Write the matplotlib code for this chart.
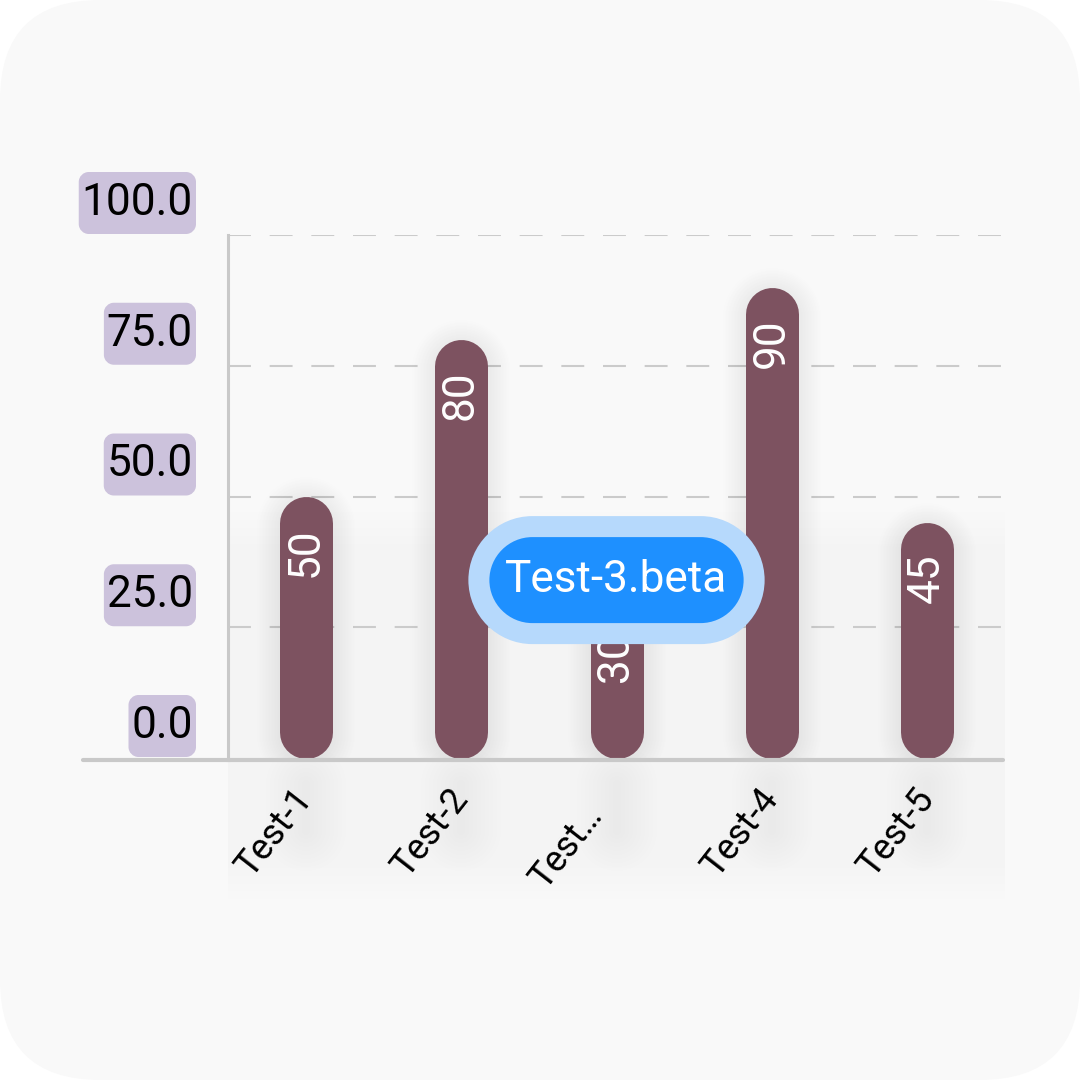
import matplotlib
matplotlib.use("Agg")
import matplotlib.pyplot as plt
import matplotlib.transforms as mtransforms
from matplotlib.patches import FancyBboxPatch, Rectangle
from matplotlib.lines import Line2D
from matplotlib.path import Path

plt.rcParams["font.family"] = ["Roboto", "DejaVu Sans"]

# data
categories = ["Test-1", "Test-2", "Test-3.beta", "Test-4", "Test-5"]
values = [50, 80, 30, 90, 45]
y_ticks = [0, 25, 50, 75, 100]
highlight = "Test-3.beta"

BAR_COLOR = "#7d5260"
GRID_COLOR = "#cbcbcb"
AXIS_COLOR = "#c9c9c9"
CARD_COLOR = "#f9f9f9"
TICK_BOX = "#ccc2dc"
FS = 31.8  # main text size

W = H = 1080
fig = plt.figure(figsize=(W / 100, H / 100), dpi=100, facecolor="white")

# rounded card behind everything
card = FancyBboxPatch((0, 0), 1, 1, boxstyle="round,pad=0,rounding_size=0.093",
                      transform=fig.transFigure, fc=CARD_COLOR, ec="none", zorder=-10)
fig.patches.append(card)

ax = fig.add_axes([228 / W, 1 - 758 / H, 777 / W, 523 / H])
ax.set_facecolor("none")
ax.set_xlim(-0.5, len(categories) - 0.5)
ax.set_ylim(0, 100)
for s in ["top", "right", "bottom"]:
    ax.spines[s].set_visible(False)
ax.spines["left"].set_color(AXIS_COLOR)
ax.spines["left"].set_linewidth(2.2)
ax.spines["left"].set_bounds(-0.4, 100)
ax.tick_params(length=0)

# dashed grid
for t in y_ticks[1:]:
    ln = ax.axhline(t, color=GRID_COLOR, lw=1.5, zorder=1)
    ln.set_dashes((11.0, 9.0))

# x axis line runs further left than the plot area
fig.add_artist(Line2D([83 / W, 1003 / W], [1 - 760 / H, 1 - 760 / H],
                      color=AXIS_COLOR, lw=3, solid_capstyle="round", zorder=3))

# very faint shaded band behind lower part of the chart
for k in range(5):
    ax.add_patch(Rectangle((-0.5, -27 + k * 1.5), len(categories), 74 - k * 3,
                           fc="black", ec="none", alpha=0.004, zorder=0.5,
                           clip_on=False))

# pixel size of one data unit, for round caps
p0 = ax.transData.transform((0, 0))
p1 = ax.transData.transform((0, 1))
px_per_unit = p1[1] - p0[1]
bar_px = 53
bar_pt = bar_px * 72 / fig.dpi
r = bar_px / 2 / px_per_unit

for i, v in enumerate(values):
    # soft shadow round the bar
    for k in range(1, 16):
        ax.plot([i, i], [r - 0.6, v - r - 0.6], color="black", alpha=0.0055,
                lw=(bar_px + 3 * k) * 72 / fig.dpi, solid_capstyle="round", zorder=1.5)
    # faint shadow column under the axis
    for k in range(1, 11):
        ax.plot([i, i], [-5, -14], color="black", alpha=0.0035,
                lw=(8 * k) * 72 / fig.dpi, solid_capstyle="round", zorder=0.6,
                clip_on=False)
    ax.plot([i, i], [r, v - r], color=BAR_COLOR, lw=bar_pt,
            solid_capstyle="round", zorder=2)
    ax.annotate(str(v), xy=(i, v), xytext=(0, -31), textcoords="offset pixels",
                rotation=90, ha="center", va="top", color="white", fontsize=FS,
                zorder=3)

# x tick labels (long names cut short)
def short(name):
    return name if len(name) <= 6 else name[:4] + "…"

ax.set_xticks(range(len(categories)))
ax.set_xticklabels([short(c) for c in categories], rotation=52, ha="right",
                   va="center", rotation_mode="anchor", fontsize=26)
ax.tick_params(axis="x", pad=25)
# the cut-short label sits a bit further out along its slant
for lbl, c in zip(ax.get_xticklabels(), categories):
    if short(c) != c:
        lbl.set_transform(lbl.get_transform()
                          + mtransforms.ScaledTranslation(-0.21, -0.17, fig.dpi_scale_trans))


# rounded box with separate side / top-bottom padding (pixels)
def make_box(px, py, rad=None):
    def box(x0, y0, width, height, mutation_size):
        x0, x1 = x0 - px, x0 + width + px
        y0, y1 = y0 - py, y0 + height + py
        rr = min(x1 - x0, y1 - y0) / 2 if rad is None else rad
        k = 0.45
        verts = [(x0 + rr, y0), (x1 - rr, y0),
                 (x1 - rr * k, y0), (x1, y0 + rr * k), (x1, y0 + rr),
                 (x1, y1 - rr),
                 (x1, y1 - rr * k), (x1 - rr * k, y1), (x1 - rr, y1),
                 (x0 + rr, y1),
                 (x0 + rr * k, y1), (x0, y1 - rr * k), (x0, y1 - rr),
                 (x0, y0 + rr),
                 (x0, y0 + rr * k), (x0 + rr * k, y0), (x0 + rr, y0),
                 (x0 + rr, y0)]
        codes = ([Path.MOVETO, Path.LINETO] + [Path.CURVE4] * 3 + [Path.LINETO]
                 + [Path.CURVE4] * 3 + [Path.LINETO] + [Path.CURVE4] * 3
                 + [Path.LINETO] + [Path.CURVE4] * 3 + [Path.CLOSEPOLY])
        return Path(verts, codes)
    return box


# y tick labels in lilac boxes, sitting on top of their grid line
ax.set_yticks(y_ticks)
ax.set_yticklabels([])
for t in y_ticks:
    ax.annotate(f"{t:.1f}", xy=(0, t), xycoords=("axes fraction", "data"),
                xytext=(-35, 11), textcoords="offset pixels", ha="right", va="bottom",
                fontsize=FS, color="black",
                bbox=dict(boxstyle=make_box(3, 10, rad=10), fc=TICK_BOX, ec="none"))

# tooltip on the highlighted bar
hi = categories.index(highlight)
ax.annotate(highlight, xy=(hi, values[hi]), xytext=(0, 21), textcoords="offset pixels",
            ha="center", va="center", fontsize=FS, color="none", zorder=5,
            bbox=dict(boxstyle=make_box(37, 43), fc="#b6d9fc", ec="none"))
ax.annotate(highlight, xy=(hi, values[hi]), xytext=(0, 21), textcoords="offset pixels",
            ha="center", va="center", fontsize=FS, color="white", zorder=6,
            bbox=dict(boxstyle=make_box(16, 22), fc="#1e90ff", ec="none"))

fig.savefig("out.png", dpi=100, facecolor="white")
